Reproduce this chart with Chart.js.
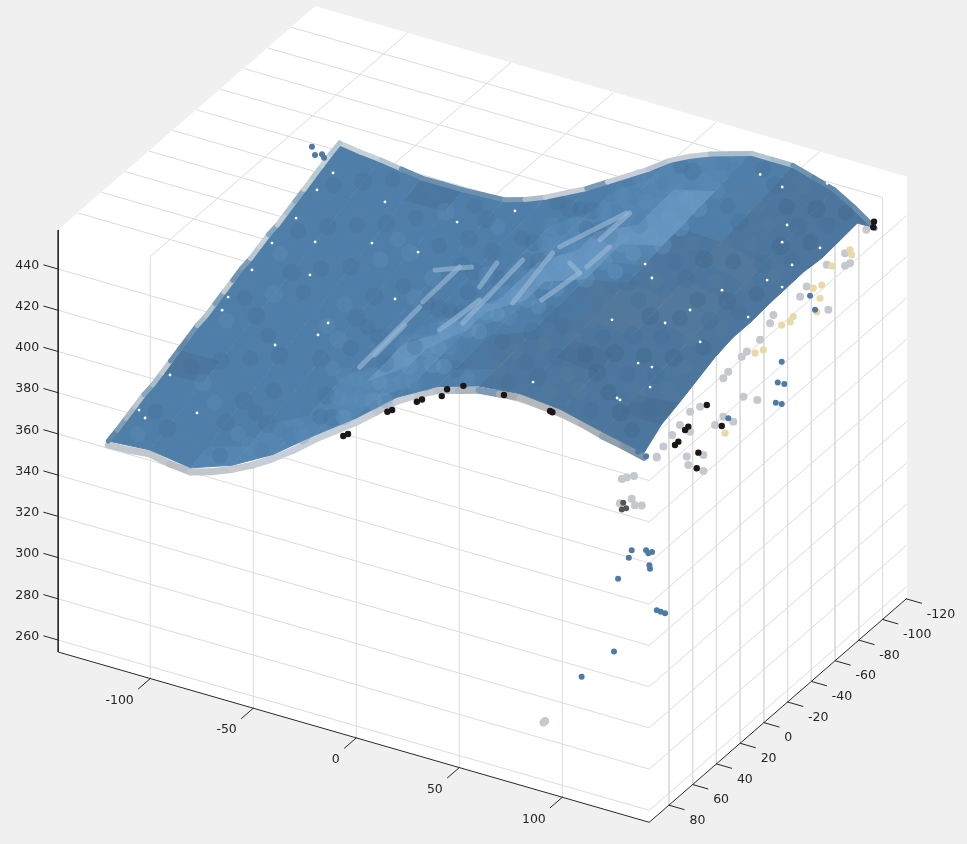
<!DOCTYPE html>
<html>
<head>
<meta charset="utf-8">
<title>Point cloud</title>
<style>
  html, body { margin: 0; padding: 0; background: #f0f0f0; overflow: hidden; }
  #wrap { width: 967px; height: 844px; }
</style>
<script src="https://cdn.jsdelivr.net/npm/chart.js@4/dist/chart.umd.js"></script>
</head>
<body>
<div id="wrap"><canvas id="cloud" width="967" height="844"></canvas></div>
<script>
"use strict";

const X_LIM = [-144.7, 142.2];
const Y_LIM = [-120, 96.6];
const Z_LIM = [254.2, 458.9];
const X_TICKS = [-100, -50, 0, 50, 100];
const Y_TICKS = [-120, -100, -80, -60, -40, -20, 0, 20, 40, 60, 80];
const Z_TICKS = [260, 280, 300, 320, 340, 360, 380, 400, 420, 440];

// surface heights, rows run front (y=80) to back (y=-115)
const SURF_X = [-130, -110, -90, -70, -50, -30, -10, 10, 30, 50, 70, 90, 110, 130];
const SURF_Y = [80, 65, 50, 35, 20, 5, -10, -25, -40, -55, -70, -85, -100, -115];
const SURF_Z = [
  [352.5, 354, 351, 358, 369, 384, 398, 414, 425, 431, 433, 431, 426, 421.5],
  [356, 357, 354, 360, 371, 385, 399, 414, 426, 432, 434, 433, 428, 428],
  [360, 361, 358, 363, 373, 386, 400, 415, 427, 433, 436, 434, 429, 431],
  [363, 364, 361, 366, 375, 388, 401, 416, 428, 435, 437, 436, 431, 434.5],
  [367, 367, 364, 369, 377, 389, 402, 417, 429, 436, 439, 437, 432, 438],
  [371, 371, 368, 372, 379, 391, 403, 418, 430, 437, 440, 439, 434, 440],
  [374, 374, 371, 374, 381, 392, 404, 418, 431, 438, 442, 440, 435, 440],
  [378, 377, 374, 377, 383, 393, 405, 419, 432, 439, 443, 442, 437, 441],
  [381, 380, 378, 380, 385, 395, 406, 420, 432, 440, 445, 444, 438, 441.5],
  [385, 384, 381, 383, 387, 396, 407, 421, 433, 442, 446, 445, 440, 442],
  [388, 387, 384, 386, 389, 398, 408, 422, 434, 443, 448, 447, 441, 441],
  [392, 390, 387, 388, 391, 399, 409, 422, 435, 444, 449, 448, 443, 442],
  [396, 394, 391, 391, 393, 400, 410, 423, 436, 445, 451, 450, 444, 443],
  [399.5, 397, 394, 394, 395, 402, 412, 424, 437, 446, 452, 452, 446, 433],
];

// heights between the rows and columns above
const MID_X = [-120, -100, -80, -60, -40, -20, 0, 20, 40, 60, 80, 100, 120];
const MID_Y = [72.5, 57.5, 42.5, 27.5, 12.5, -2.5, -17.5, -32.5, -47.5, -62.5, -77.5, -92.5, -107.5];
const MID_Z = [
  [355, 354, 356, 365, 377, 392, 406, 420, 428, 432, 433, 430, 426],
  [358.5, 357.5, 359, 367, 379, 392.5, 407, 420.5, 429.5, 434, 434, 431, 429],
  [362, 361, 362, 369, 380.5, 394, 408, 421.5, 431, 435, 436, 432.5, 431],
  [365, 364, 365, 372, 382, 395, 409, 422.5, 432, 437, 437, 434, 434],
  [369, 367.5, 368, 374, 384, 396, 410, 423.5, 433, 438, 439, 435.5, 436],
  [372.5, 371, 371, 376.5, 386, 397.5, 411, 424, 434, 439, 440, 437, 437],
  [376, 374, 374, 379, 387, 398.5, 411.5, 425, 435, 440.5, 442, 438.5, 438],
  [379, 377, 377, 381, 389, 400, 412.5, 426, 436, 442, 443.5, 440, 439.5],
  [382.5, 381, 380.5, 384, 391, 401, 413.5, 426.5, 437, 443, 445, 442, 440],
  [386, 384, 383.5, 386, 392.5, 402, 414.5, 427.5, 438, 445, 446.5, 443, 441],
  [389, 387, 386, 388.5, 394, 403.5, 415, 428, 439, 446, 448, 445, 442],
  [393, 390.5, 389, 391, 396, 404.5, 416, 429, 440, 447, 449.5, 446, 443],
  [396.5, 394, 392.5, 393, 397.5, 406, 417, 430, 441, 448.5, 451, 448, 441.5],
];

// shade of each surface patch
const SHADES = { a: "#4f7fa9", b: "#5486b1", c: "#6494bf", d: "#4c769d", e: "#52789b", f: "#4a7098" };
const SURF_SHADE = [
  "aabbbbaaadddd",
  "aaabbbbaddddf",
  "aaaabbbaddfdd",
  "daaabcbaadddd",
  "aaaaaccbadedd",
  "aaaaabccadeed",
  "aaaaaabccaded",
  "aaaaaaaccbddd",
  "aaaaaabbccded",
  "aaaaaabbbcadd",
  "aaaaaabbbcadd",
  "aaaaaaabbbadd",
  "aadaaaaabbadd",
];
const TINTS = {
  g: "rgba(66,108,146,0.28)", h: "rgba(96,144,186,0.28)", i: "rgba(74,124,168,0.28)",
  j: "rgba(110,158,200,0.3)", k: "rgba(88,122,156,0.3)", l: "rgba(62,100,138,0.3)",
};
const MID_TINT = [
  "higihjjihgkgl",
  "gihighhjigklg",
  "ihgihjhigklgk",
  "gigihhjjigglk",
  "igihighjjikgl",
  "hgigiihjjkglk",
  "gihgigihjjklg",
  "ighiggihjjgkl",
  "hgigihghijklk",
  "gihigihghjikg",
  "ighgigihhjgkl",
  "gigihighihklg",
  "igigigihgigkl",
];
const NODE_TINT = [
  "gihigjhgkgkl",
  "iggihhjikglk",
  "hgighjhigklg",
  "giihgjjhgkgl",
  "iggihjjjiklk",
  "gihgighjjgkg",
  "higigihjjkgl",
  "gighigghjjlk",
  "igihgihgijkg",
  "gihigghihjgl",
  "igigihgihhkg",
  "gihgigihgigl",
];

const RIM_X = [-130, -120, -110, -100, -90, -80, -70, -60, -50, -40, -30, -20, -10, 0, 10, 20, 30, 40, 50, 60, 70, 80, 90, 100, 110, 120, 130];
const FRONT_RIM_Z = [352.5, 353, 354, 352, 351, 354, 358, 363, 369, 376, 384, 391, 398, 406, 414, 420, 425, 428, 431, 432, 433, 432, 431, 429, 426, 424, 421.5];
const FRONT_RIM_COLOR = ["#c2c7cb", "#c2c7cb", "#c2c7cb", "#b9bec3", "#c2c7cb", "#c2c7cb", "#c6cbd0", "#c8ced8", "#c8ced8", "#c8ced8", "#c8ced8", "#c8ced8", "#c8ced8", "#bfc5ce", "#c8ced8", "#bfc5ce", "#b8bec6", "#a9b4be", "#7d9ab4", "#a8adb2", "#b6b9bc", "#b6b9bc", "#b6b9bc", "#a9b0b6", "#8fa0ae", "#7c93a8", "#6f8ea8"];
const BACK_RIM_Z = [399.5, 398, 397, 395.5, 394, 394, 394, 394.5, 395, 398, 402, 407, 412, 418, 424, 430, 437, 442, 446, 449, 452, 452, 452, 449, 446, 440, 433];
const BACK_RIM_COLOR = ["#c6d2d8", "#c6d2d8", "#b4c7d1", "#6a90af", "#6a90af", "#6a90af", "#6a90af", "#6a90af", "#7d9ab4", "#aebcc8", "#c5ccd6", "#c5ccd6", "#7b9ab5", "#c6cdd6", "#c6cdd6", "#b9c3cf", "#c6ccd6", "#c6ccd6", "#a9bcca", "#a9bcca", "#b3c6cf", "#a4bdcb", "#6e93b0", "#5f87a8", "#5f87a8", "#6a8eab", "#c9d8e0"];
const LEFT_RIM_Y = [80, 72.5, 65, 57.5, 50, 42.5, 35, 27.5, 20, 12.5, 5, -2.5, -10, -17.5, -25, -32.5, -40, -47.5, -55, -62.5, -70, -77.5, -85, -92.5, -100, -107.5, -115];
const LEFT_RIM_Z = [352.5, 354, 356, 358, 360, 361, 363, 365, 367, 369, 371, 372, 374, 376, 378, 380, 381, 383, 385, 386, 388, 390, 392, 394, 396, 398, 399.5];
const LEFT_RIM_COLOR = ["#5d86a8", "#7f9db5", "#a4b6c2", "#b9c6cd", "#8ba6bb", "#a9bdc9", "#c0c8cc", "#6f90ad", "#6488a8", "#6f93b0", "#a9bdca", "#b2c4cf", "#7da0b9", "#c2c8cc", "#6f93b0", "#7b9db8", "#b6c9d2", "#c3d0d6", "#85a6bf", "#c3ccd1", "#a9c0cc", "#8caabd", "#c6cfd3", "#b4c8d2", "#c6d2d8", "#b4c7d1", "#c6d2d8"];

// strays, each [x, y, z]
const STRAY_BLUE = [
  [112.6, 60, 359.4], [111.2, 60, 355.3], [119.6, 60, 361.4], [122.5, 60, 361.3], [120.7, 60, 360.2],
  [121.2, 60, 354.6], [121.5, 60, 352.9], [106, 60, 343.6], [124.8, 60, 333.8], [126.7, 60, 333.6],
  [128.8, 60, 333.5], [104, 60, 307.8], [88.3, 60, 291], [115.7, 60, 408], [119.6, 60, 407],
  [130, -36.2, 407.7], [130, -32.9, 399.2], [130, -38.4, 395.8], [130, -31.2, 390.3], [130, -36.2, 387.2],
  [130, -64.3, 418.8], [130, -60.1, 427.7], [130, 8.8, 402.8],
  [-134.8, -100, 403.8], [-133.3, -100, 400.2], [-129.9, -100, 401.6], [-128.9, -100, 400.1],
];
const STRAY_GRAY = [
  [69.8, 60, 263.4], [70.6, 60, 264.4], [110.2, 60, 394], [107.8, 60, 392.6], [113.7, 60, 395.7],
  [106.9, 60, 380.5], [112.6, 60, 384.3], [114.2, 60, 381.6], [117.5, 60, 382.5], [124.8, 60, 407.9],
  [130, -89.6, 433.6], [130, -74.2, 435.7], [130, -89.6, 427.5], [130, -57.3, 433.6], [130, -51.7, 431.5],
  [130, -75.5, 413.2], [130, -29.2, 433.9], [130, -26.4, 431.3], [130, -18, 427.4], [130, -6.8, 427.3],
  [130, -2.5, 427], [130, 8.8, 425.4], [130, 13, 424.3], [130, -3.9, 406.9], [130, -15.7, 399.4],
  [130, 41, 422.1], [130, 32.6, 420.3], [130, 20, 405.1], [130, 4.6, 399], [130, 13, 405.6],
  [130, 43.8, 401.7], [130, 42.5, 397], [130, 29.8, 395.5], [130, 29.8, 387.7], [130, 63.5, 416.4],
  [130, 69.1, 414.3], [130, 49.5, 419.9], [130, 56.2, 418.4], [130, 41, 412.3], [130, -93.8, 426.6],
  [130, -107.5, 436],
];
const STRAY_TAN = [
  [130, -95.2, 430], [130, -78.4, 433], [130, -69.9, 428], [130, -62.9, 430], [130, -68.5, 422.3],
  [130, -65.7, 417.2], [130, -46, 424.7], [130, -36.2, 425.5], [130, -20.7, 421.2], [130, -13.8, 423.1],
  [130, 11.5, 396.9], [130, -43.2, 423.5], [130, -93.8, 433.1],
];
const STRAY_DARK = [
  [108.5, 60, 381.2], [107.8, 60, 377.8], [109.9, 60, 378.9],
];
const STRAY_BLACK = [
  [-27.4, 60, 374.5], [-25.1, 60, 376.1], [-6, 60, 392.4], [-3.7, 60, 393.9], [8.3, 60, 401.4],
  [10.8, 60, 403.2], [20.4, 60, 407.6], [23, 60, 411.7], [30.9, 60, 415.6], [50.6, 60, 416.8],
  [74.1, 60, 415.2], [73, 60, 415.5],
  [130, 42.5, 415.6], [130, 45.2, 415.3], [130, 50.9, 412.5], [130, 53.7, 412.3], [130, 26.9, 418.3],
  [130, 14.3, 401.8], [130, 34, 398.7], [130, 35.4, 391.8], [130, -113.4, 434.3], [130, -114, 436.7],
];

// small gaps in the cloud
const GAPS = [
  [-101.5, -60, 420.7], [-109.3, -60, 410.2], [-67.6, 30, 453.6], [-79.3, 30, 438.1], [-89, 30, 422.3],
  [-100.6, 30, 405.8], [-103.5, 30, 398.6], [-128.8, 30, 359.9], [-143.8, 30, 338.5], [-140.9, 30, 335.5],
  [-115.7, 30, 345.2], [-77.8, 30, 389.1], [-112.7, -60, 368], [-108.8, -60, 340], [-103.9, -60, 347.2],
  [-110.2, -60, 384.7], [-82.6, -60, 392.1], [-76.3, -60, 413.9], [-71.4, -60, 368.2], [-60.2, -60, 394.2],
  [-41.3, -60, 414.2], [-13.2, -60, 427.7], [-4.4, -60, 347.2], [33.9, -60, 388.4], [36.4, -60, 351.2],
  [46.6, -60, 371.1], [50, -60, 420.1], [59.7, -60, 394.3], [53.3, -60, 371.1], [52.4, -60, 361.1],
  [37.8, -60, 350.7], [53.3, -60, 414.3], [76.7, -60, 390], [87.3, -60, 418.2], [71.8, -60, 404.1],
  [100, -60, 408.8], [109.2, -60, 429.4], [116.5, -60, 428.1], [121.3, -60, 440.2], [116.5, -60, 449.9],
  [118.9, -60, 458.9], [134.9, -60, 452.4], [93.5, -100, 450], [115.3, -100, 458], [82.8, -100, 453],
  [88.7, -115, 456],
];

// pale streaks along the ridge, each a pair of [x, y, z] ends
const STREAKS = [
  [[-88.6, -60, 330.2], [-59.4, -60, 367.8]],
  [[-58, -60, 370.6], [-40, -60, 392.8]],
  [[-52, -60, 387.8], [-34.2, -60, 394.4]],
  [[-38.6, -60, 366], [-9.4, -60, 405]],
  [[-30.3, -60, 385.9], [-22, -60, 399.9]],
  [[-14.3, -60, 382.7], [5.1, -60, 412.6]],
  [[-0.2, -60, 388.2], [18.2, -60, 406.6]],
  [[18.2, -60, 406.6], [13.4, -60, 410.1]],
  [[8.5, -60, 416.5], [41, -60, 442.3]],
  [[28, -60, 425.5], [42.5, -60, 442.7]],
  [[21.6, -60, 410.5], [32.8, -60, 423.5]],
  [[-81.3, -60, 338.2], [-66.7, -60, 356.9]],
  [[-49.7, -60, 359.4], [-30.3, -60, 379.5]],
];

const WHITE = "#ffffff";
const GRID = "#dcdcdc";
const AXIS = "#262626";

function view(p) {
  const back = Y_LIM[1] - p[1];
  return {
    x: 356.3 + 2.06 * p[0] + 1.1867 * back,
    y: 737.9 + 0.5935 * p[0] - 1.0317 * back - 2.061 * (p[2] - Z_LIM[0]),
  };
}

function lineSet(points, color, width) {
  return { data: points.map(view), showLine: true, borderColor: color, borderWidth: width, pointRadius: 0, fill: false, borderCapStyle: "round" };
}
function shapeSet(points, color) {
  return { data: points.map(view), showLine: true, borderColor: color, backgroundColor: color, borderWidth: 1, pointRadius: 0, fill: "shape" };
}
function dotSet(points, color, radius) {
  return { data: points.map(view), showLine: false, pointRadius: radius, pointBackgroundColor: color, pointBorderWidth: 0, pointHoverRadius: radius };
}
// thick rim, one short stroke per reading so the colour can change along it
function rimStrokes(points, colors, width) {
  points.forEach((p, i) => {
    if (i + 1 < points.length) layers.push(lineSet([p, points[i + 1]], colors[i], width));
  });
}

const layers = [];
const [x0, x1] = X_LIM, [y0, y1] = Y_LIM, [z0, z1] = Z_LIM;

// white faces of the box
layers.push(shapeSet([[x0, y1, z1], [x0, y0, z1], [x1, y0, z1], [x1, y0, z0], [x1, y1, z0], [x0, y1, z0]], WHITE));

// grid lines on the three faces
X_TICKS.forEach((x) => {
  layers.push(lineSet([[x, y1, z0], [x, y1, z1], [x, y0, z1]], GRID, 1));
});
Y_TICKS.forEach((y) => {
  if (y === Y_LIM[0]) return;
  layers.push(lineSet([[x0, y, z1], [x1, y, z1], [x1, y, z0]], GRID, 1));
});
Z_TICKS.forEach((z) => {
  layers.push(lineSet([[x0, y1, z], [x1, y1, z], [x1, y0, z]], GRID, 1));
});

// axes and tick marks
layers.push(lineSet([[x0, y1, z1], [x0, y1, z0], [x1, y1, z0], [x1, y0, z0]], AXIS, 1));
X_TICKS.forEach((x) => layers.push(lineSet([[x, y1, z0], [x, y1 + 10, z0]], AXIS, 1)));
Y_TICKS.forEach((y) => layers.push(lineSet([[x1, y, z0], [x1 + 7.4, y, z0]], AXIS, 1)));
Z_TICKS.forEach((z) => layers.push(lineSet([[x0, y1, z], [x0 - 7, y1, z]], AXIS, 1)));

// rim under the surface
rimStrokes(RIM_X.map((x, i) => [x, 80, FRONT_RIM_Z[i] - 2]), FRONT_RIM_COLOR, 7);

// surface patches
SURF_SHADE.forEach((row, r) => {
  row.split("").forEach((key, s) => {
    layers.push(shapeSet([
      [SURF_X[s], SURF_Y[r], SURF_Z[r][s]],
      [SURF_X[s + 1], SURF_Y[r], SURF_Z[r][s + 1]],
      [SURF_X[s + 1], SURF_Y[r + 1], SURF_Z[r + 1][s + 1]],
      [SURF_X[s], SURF_Y[r + 1], SURF_Z[r + 1][s]],
    ], SHADES[key]));
  });
});

// soft dots for the mottled look of the cloud
function tintDots(xs, ys, zs, tints, radius) {
  const data = [], colors = [];
  tints.forEach((row, r) => {
    row.split("").forEach((key, s) => {
      data.push(view([xs[s], ys[r], zs[r][s]]));
      colors.push(TINTS[key]);
    });
  });
  return { data, showLine: false, pointRadius: radius, pointBackgroundColor: colors, pointBorderWidth: 0 };
}
layers.push(tintDots(SURF_X.slice(1), SURF_Y.slice(1), SURF_Z.slice(1).map((row) => row.slice(1)), NODE_TINT, 9));
layers.push(tintDots(MID_X, MID_Y, MID_Z, MID_TINT, 8));

rimStrokes(RIM_X.map((x, i) => [x, -115, BACK_RIM_Z[i]]), BACK_RIM_COLOR, 5);
rimStrokes(LEFT_RIM_Y.map((y, i) => [-130, y, LEFT_RIM_Z[i]]), LEFT_RIM_COLOR, 5);

STREAKS.forEach((s) => layers.push(lineSet(s, "rgba(150,182,210,0.65)", 5)));
layers.push(dotSet(GAPS, WHITE, 1.4));

layers.push(dotSet(STRAY_GRAY, "#c6c8d0", 4));
layers.push(dotSet(STRAY_TAN, "#e8d9a8", 3.6));
layers.push(dotSet(STRAY_BLUE, "#4f7aa3", 3));
layers.push(dotSet(STRAY_DARK, "#555555", 3));
layers.push(dotSet(STRAY_BLACK, "#1c1716", 3.2));

// tick labels follow the 3D axes, so they cannot come from the flat scales
const tickLabels = {
  id: "tickLabels",
  afterDraw(chart) {
    const { ctx, scales } = chart;
    const put = (p, text, dx, dy, align) => {
      const v = view(p);
      ctx.textAlign = align;
      ctx.fillText(text, scales.x.getPixelForValue(v.x) + dx, scales.y.getPixelForValue(v.y) + dy);
    };
    ctx.save();
    ctx.font = '12.5px "DejaVu Sans"';
    ctx.fillStyle = AXIS;
    ctx.textBaseline = "middle";
    X_TICKS.forEach((x) => put([x, y1, z0], String(x), -16.5, 22, "right"));
    Y_TICKS.forEach((y) => put([x1, y, z0], String(y), 20.5, 15.5, "left"));
    Z_TICKS.forEach((z) => put([x0, y1, z], String(z), -19, -3.5, "right"));
    ctx.restore();
  },
};

new Chart(document.getElementById("cloud"), {
  type: "scatter",
  data: { datasets: layers.reverse() },
  plugins: [tickLabels],
  options: {
    responsive: false, animation: false, events: [],
    layout: { padding: 0, autoPadding: false },
    elements: { line: { tension: 0 } },
    scales: {
      x: { type: "linear", display: false, min: 0, max: 967 },
      y: { type: "linear", display: false, min: 0, max: 844, reverse: true },
    },
    plugins: { legend: { display: false }, tooltip: { enabled: false } },
  },
});
</script>
</body>
</html>
